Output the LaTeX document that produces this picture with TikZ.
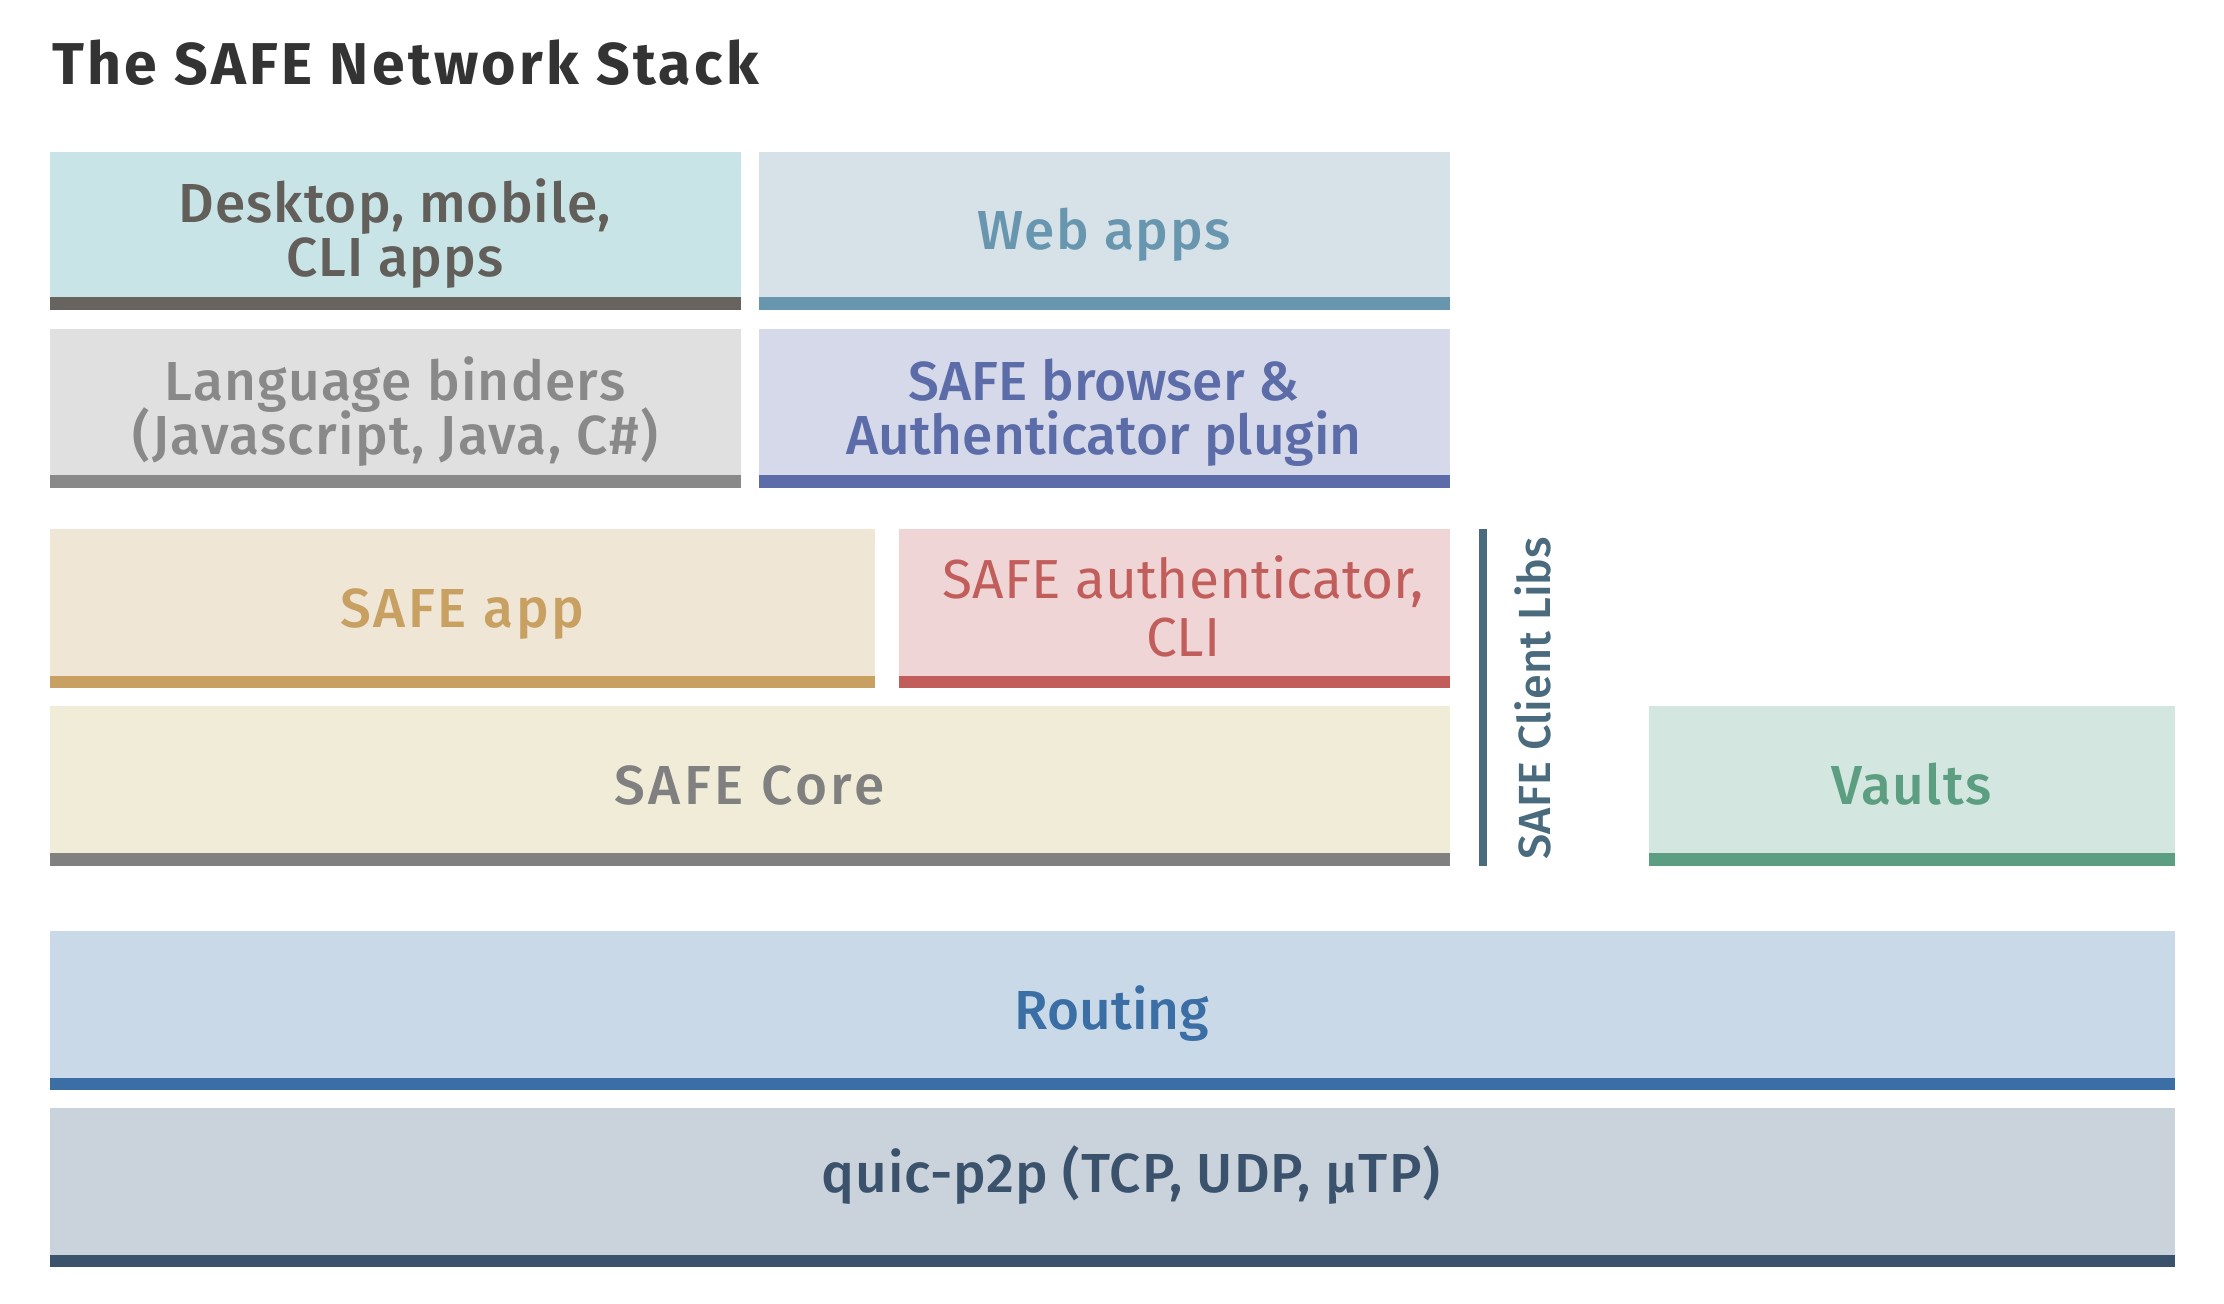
\documentclass[tikz,border=0pt]{standalone}
\usepackage{fontspec}
\setmainfont{Fira Sans}
\IfFontExistsTF{Fira Sans Medium}{\newfontfamily\medfont{Fira Sans Medium}}{\newfontfamily\medfont{Fira Sans}}
\newfontfamily\regfont{Fira Sans}
\definecolor{deskF}{HTML}{C8E4E7}\definecolor{deskB}{HTML}{67635E}\definecolor{deskT}{HTML}{625E59}
\definecolor{webF}{HTML}{D7E2E8}\definecolor{webB}{HTML}{6896AE}
\definecolor{langF}{HTML}{E0E0E0}\definecolor{langB}{HTML}{898989}
\definecolor{browF}{HTML}{D6D9E9}\definecolor{browB}{HTML}{5B6CA8}
\definecolor{appF}{HTML}{EFE6D6}\definecolor{appB}{HTML}{C7A062}
\definecolor{authF}{HTML}{EFD5D5}\definecolor{authB}{HTML}{C15E5B}
\definecolor{coreF}{HTML}{F1ECD7}\definecolor{coreB}{HTML}{808080}
\definecolor{libsC}{HTML}{4A6B7E}
\definecolor{vaultF}{HTML}{D4E6E0}\definecolor{vaultB}{HTML}{5B9E82}
\definecolor{routF}{HTML}{C9D9E7}\definecolor{routB}{HTML}{3A6EA4}
\definecolor{quicF}{HTML}{CAD2DB}\definecolor{quicB}{HTML}{3A526B}
\definecolor{titleC}{HTML}{333333}
\newcommand\lblfont{\medfont\fontsize{27.5pt}{27pt}\selectfont}
\newcommand\lsp[1]{\addfontfeatures{LetterSpace=#1}}
\newcommand\fl[1]{\vphantom{H}\smash{#1}}
\newcommand\ol[1]{\smash{#1}}
\newcommand\stacklayer[7]{%
  \node[layerbox, fill=#6, minimum width={(#4-#2)*0.5pt}, minimum height={(#5-#3)*0.5pt}] (#1) at (#2,#3) {};
  \fill[#7] ([yshift=6.25pt]#1.south west) rectangle (#1.south east);
}
\tikzset{
  layerbox/.style={rectangle, draw=none, inner sep=0pt, outer sep=0pt, anchor=north west},
  lbl/.style={inner sep=0pt, align=center, font={\lblfont\lsp{#1}}},
  lbl/.default=0,
}
\begin{document}
\begin{tikzpicture}[x=0.5pt, y=-0.5pt]
\useasboundingbox[fill=white] (0,0) rectangle (2224,1303);
\node[anchor=base west, inner sep=0pt, text=titleC, font={\bfseries\fontsize{29.5pt}{32pt}\selectfont\lsp{5.6}}] (title) at (52,84) {The SAFE Network Stack};

\stacklayer{desk}{49.6}{152}{740.5}{309.5}{deskF}{deskB}
\stacklayer{web}{758.8}{152}{1449.6}{309.5}{webF}{webB}
\stacklayer{lang}{49.6}{329}{740.5}{487.5}{langF}{langB}
\stacklayer{brow}{758.8}{329}{1449.6}{487.5}{browF}{browB}
\stacklayer{app}{49.6}{529}{875}{688.3}{appF}{appB}
\stacklayer{auth}{899}{529}{1449.6}{688.3}{authF}{authB}
\stacklayer{core}{49.6}{706}{1449.6}{865.7}{coreF}{coreB}
\stacklayer{vault}{1648.5}{706}{2174.5}{865.7}{vaultF}{vaultB}
\stacklayer{rout}{49.6}{931}{2174.5}{1090}{routF}{routB}
\stacklayer{quic}{49.6}{1108}{2174.5}{1267.3}{quicF}{quicB}

\node[lbl=1.8, text=deskT] (desk-t) at (desk.center) {\fl{Desktop, mobile,}\\\ol{CLI apps}};
\node[lbl=2.6, text=webB] (web-t) at (web.center) {\fl{Web apps}};
\node[lbl=2.4, text=langB] (lang-t) at (lang.center) {\fl{Language binders}\\\ol{(Javascript, Java, C\#)}};
\node[lbl=0, text=browB] (brow-t) at (brow.center) {\fl{SAFE browser \&}\\\ol{Authenticator plugin}};
\node[lbl=5, text=appB] (app-t) at (app.center) {\fl{SAFE app}};
\node[lbl, text=authB, font={\regfont\fontsize{27.5pt}{29pt}\selectfont}] (auth-t) at ([xshift=4.5pt]auth.center) {\fl{SAFE authenticator,}\\\ol{CLI}};
\node[lbl=6.5, text=coreB] (core-t) at (core.center) {\fl{SAFE Core}};
\node[lbl=2.6, text=vaultB] (vault-t) at (vault.center) {\fl{Vaults}};
\node[lbl=0, text=routB] (rout-t) at (rout.center) {\fl{Routing}};
\node[lbl=1.9, text=quicB] (quic-t) at ([xshift=9.5pt, yshift=7pt]quic.center) {\fl{quic-p2p (TCP, UDP, µTP)}};

\coordinate (libs-top) at (1483,529);
\coordinate (libs-bot) at (1483,865.7);
\draw[libsC, line width=4pt] (libs-top) -- (libs-bot);
\node[lbl, text=libsC, rotate=90, font={\medfont\fontsize{22.5pt}{24pt}\selectfont}] (libs-t) at (1535,698) {\fl{SAFE Client Libs}};
\end{tikzpicture}
\end{document}
